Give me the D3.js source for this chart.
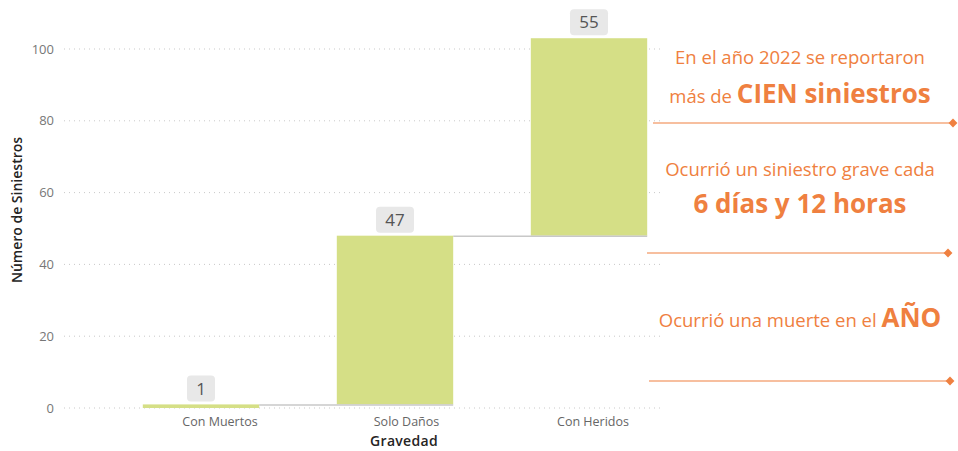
<!DOCTYPE html>
<html>
<head>
<meta charset="utf-8">
<script src="https://cdn.jsdelivr.net/npm/d3@7"></script>
<style>
  body { margin: 0; background: #fff; }
  svg { display: block; font-family: 'Open Sans', sans-serif; }
</style>
</head>
<body>
<script>
'use strict';

const categories = ['Con Muertos', 'Solo Daños', 'Con Heridos']
const values     = [1, 47, 55]
const yTicks     = [0, 20, 40, 60, 80, 100]

const BAR    = '#d5df86'
const LINK   = '#c8c8c8'
const GRID   = '#c9c9c9'
const ORANGE = '#ef8040'

const W = 958, H = 451

const svg = d3.select('body').append('svg')
  .attr('width', W)
  .attr('height', H)

const y = d3.scaleLinear().domain([0, 100]).range([408, 49])

const x = d3.scaleBand()
  .domain(categories)
  .range([104, 686])
  .paddingInner(0.4)
  .paddingOuter(0.2)

// Power BI puts the category labels a bit off the bar centres
const xLabel = d3.scalePoint().domain(categories).range([220, 593])

// running totals for the waterfall
let run = 0
const steps = values.map((v, i) => {
  const s = { cat: categories[i], v, start: run, end: run + v }
  run += v
  return s
})

// gridlines
svg.append('g')
  .selectAll('line')
  .data(yTicks)
  .join('line')
  .attr('x1', 64).attr('x2', 662)
  .attr('y1', d => y(d)).attr('y2', d => y(d))
  .attr('stroke', GRID)
  .attr('stroke-width', 1)
  .attr('stroke-dasharray', '1 4')

// y axis
const yAxis = svg.append('g')
  .attr('transform', 'translate(54,0)')
  .call(d3.axisLeft(y).tickValues(yTicks).tickSize(0).tickPadding(0))
yAxis.select('.domain').remove()
yAxis.selectAll('text')
  .attr('fill', '#777')
  .style('font-size', '13px')
  .style('font-family', "'Open Sans', sans-serif")

svg.append('text')
  .attr('transform', `translate(22, 210) rotate(-90)`)
  .attr('text-anchor', 'middle')
  .attr('fill', '#252423')
  .style('font-size', '14px')
  .style('font-weight', 600)
  .text('Número de Siniestros')

// bars
svg.append('g')
  .selectAll('rect')
  .data(steps)
  .join('rect')
  .attr('x', d => x(d.cat))
  .attr('width', x.bandwidth())
  .attr('y', d => y(d.end))
  .attr('height', d => y(d.start) - y(d.end))
  .attr('fill', BAR)

// connector lines between steps
svg.append('g')
  .selectAll('line')
  .data(steps.slice(0, -1))
  .join('line')
  .attr('x1', d => x(d.cat) + x.bandwidth())
  .attr('x2', (d, i) => x(categories[i + 1]) + x.bandwidth())
  .attr('y1', d => y(d.end) + 0.5)
  .attr('y2', d => y(d.end) + 0.5)
  .attr('stroke', LINK)
  .attr('stroke-width', 1.5)

// value labels
const lab = svg.append('g')
  .selectAll('g')
  .data(steps)
  .join('g')
  .attr('transform', d => `translate(${ x(d.cat) + x.bandwidth() / 2 }, ${ y(d.end) - 16 })`)

lab.append('rect')
  .attr('x', d => d.v < 10 ? -14 : -19)
  .attr('width', d => d.v < 10 ? 28 : 38)
  .attr('y', -13)
  .attr('height', 26)
  .attr('rx', 4)
  .attr('fill', '#e8e8e8')

lab.append('text')
  .attr('text-anchor', 'middle')
  .attr('dy', '0.36em')
  .attr('fill', '#555')
  .style('font-size', '17px')
  .text(d => d.v)

// category labels
svg.append('g')
  .selectAll('text')
  .data(categories)
  .join('text')
  .attr('x', d => xLabel(d))
  .attr('y', 426)
  .attr('text-anchor', 'middle')
  .attr('fill', '#666')
  .style('font-size', '12.5px')
  .text(d => d)

svg.append('text')
  .attr('x', 404)
  .attr('y', 446)
  .attr('text-anchor', 'middle')
  .attr('fill', '#252423')
  .style('font-size', '14px')
  .style('font-weight', 600)
  .style('letter-spacing', '0.3px')
  .text('Gravedad')

// annotations on the right
const notes = [
  { lines: [[['En el año 2022 se reportaron', false]], [['más de ', false], ['CIEN siniestros', true]]],
    base: [64, 103], rule: [653, 953, 123] },
  { lines: [[['Ocurrió un siniestro grave cada', false]], [['6 días y 12 horas', true]]],
    base: [176, 213], rule: [647, 948, 253] },
  { lines: [[['Ocurrió una muerte en el ', false], ['AÑO', true]]],
    base: [327], rule: [649, 950, 381] }
]

notes.forEach(n => {
  n.lines.forEach((parts, i) => {
    const t = svg.append('text')
      .attr('x', 800)
      .attr('y', n.base[i])
      .attr('text-anchor', 'middle')
      .attr('fill', ORANGE)
    parts.forEach(([s, bold]) => {
      t.append('tspan')
        .style('font-size', bold ? '26px' : '18.5px')
        .style('font-weight', bold ? 700 : 400)
        .text(s)
    })
  })
  const [x1, x2, ly] = n.rule
  svg.append('line')
    .attr('x1', x1).attr('x2', x2)
    .attr('y1', ly).attr('y2', ly)
    .attr('stroke', ORANGE)
    .attr('stroke-width', 1.2)
  svg.append('path')
    .attr('d', d3.symbol(d3.symbolDiamond2, 50)())
    .attr('transform', `translate(${ x2 }, ${ ly })`)
    .attr('fill', ORANGE)
})
</script>
</body>
</html>
